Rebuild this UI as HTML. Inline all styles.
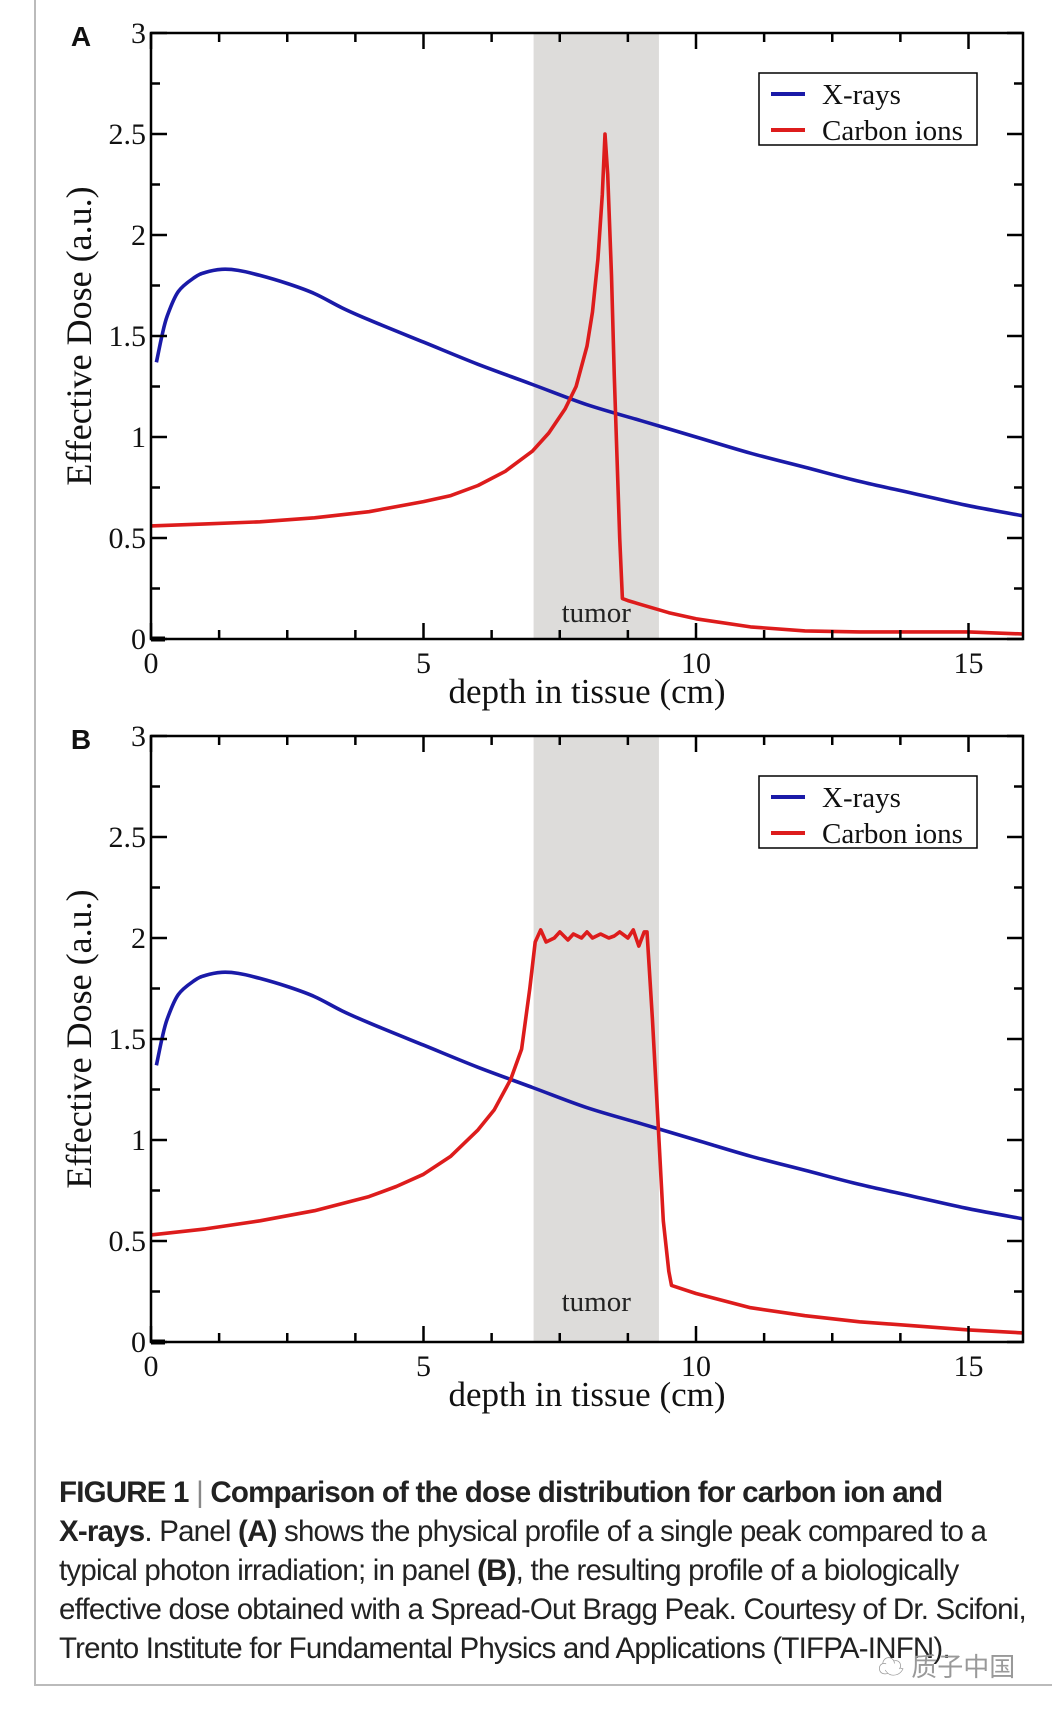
<!DOCTYPE html>
<html><head><meta charset="utf-8"><style>
html,body{margin:0;padding:0;background:#fff;}
body{width:1052px;height:1717px;position:relative;overflow:hidden;font-family:"Liberation Serif",serif;}
#frame{position:absolute;left:34px;top:-2px;width:1030px;height:1686px;border-left:2px solid #bbb;border-bottom:2px solid #bbb;}
.cap{position:absolute;left:59px;font-family:"Liberation Sans",sans-serif;font-size:29.5px;color:#222;white-space:nowrap;letter-spacing:-0.8px;}
</style></head><body>
<div id="frame"></div>
<svg id="chart" width="1052" height="1717" style="position:absolute;left:0;top:0"></svg>
<div class="cap" style="top:1476px"><b>FIGURE 1</b> <span style="color:#888">|</span> <b>Comparison of the dose distribution for carbon ion and</b></div>
<div class="cap" style="top:1515px"><b>X-rays</b>. Panel <b>(A)</b> shows the physical profile of a single peak compared to a</div>
<div class="cap" style="top:1554px">typical photon irradiation; in panel <b>(B)</b>, the resulting profile of a biologically</div>
<div class="cap" style="top:1593px">effective dose obtained with a Spread-Out Bragg Peak. Courtesy of Dr. Scifoni,</div>
<div class="cap" style="top:1632px">Trento Institute for Fundamental Physics and Applications (TIFPA-INFN).</div>
<div style="position:absolute;left:878px;top:1647px;font-family:'Liberation Sans','Noto Sans CJK SC',sans-serif;font-size:26px;color:#999">☁ 质子中国</div>
<script>
const xrayX = [0.1,0.2,0.3,0.5,0.8,1.0,1.3,1.6,2,2.5,3,3.5,4,5,6,7,8,9,10,11,12,13,14,15,16];
const xrayY = [1.37,1.5,1.6,1.72,1.79,1.815,1.83,1.825,1.8,1.76,1.71,1.64,1.58,1.47,1.36,1.26,1.16,1.08,1.0,0.92,0.85,0.78,0.72,0.66,0.61];
const carbonAX = [0,1,2,3,4,5,5.5,6,6.5,7,7.3,7.6,7.8,8.0,8.1,8.2,8.28,8.33,8.38,8.45,8.5,8.55,8.6,8.65,8.75,9,9.5,10,11,12,13,14,15,16];
const carbonAY = [0.56,0.57,0.58,0.6,0.63,0.68,0.71,0.76,0.83,0.93,1.02,1.14,1.25,1.45,1.62,1.88,2.2,2.5,2.3,1.8,1.3,0.9,0.5,0.2,0.19,0.17,0.13,0.1,0.06,0.04,0.035,0.035,0.035,0.025];
const carbonBX = [0,1,2,3,4,4.5,5,5.5,6,6.3,6.6,6.8,6.95,7.05,7.15,7.25,7.4,7.5,7.65,7.75,7.9,8.0,8.1,8.25,8.4,8.5,8.6,8.75,8.85,8.95,9.05,9.1,9.2,9.3,9.4,9.5,9.55,10,11,12,13,14,15,16];
const carbonBY = [0.53,0.56,0.6,0.65,0.72,0.77,0.83,0.92,1.05,1.15,1.3,1.45,1.75,1.98,2.04,1.98,2.0,2.03,1.99,2.02,2.0,2.03,2.0,2.02,2.0,2.01,2.03,2.0,2.04,1.96,2.03,2.03,1.6,1.1,0.6,0.35,0.28,0.24,0.17,0.13,0.1,0.08,0.06,0.045];
const xTicks = [0,5,10,15];
const yTicks = [0,0.5,1,1.5,2,2.5,3];
const yTickLabels = ["0","0.5","1","1.5","2","2.5","3"];
const tumorRange = [7.02,9.32];

const NS="http://www.w3.org/2000/svg";
const svg=document.getElementById('chart');
function mk(tag,attrs,parent){const e=document.createElementNS(NS,tag);for(const k in attrs)e.setAttribute(k,attrs[k]);(parent||svg).appendChild(e);return e;}
function panel(letter,top,cX,cY,tumorY){
  const L=151,R=1023,T=top,B=top+606;
  const sx=v=>L+(v/16)*(R-L), sy=v=>B-(v/3)*(B-T);
  const g=mk('g',{});
  
  
  const band=mk('rect',{x:sx(tumorRange[0]),y:T,width:sx(tumorRange[1])-sx(tumorRange[0]),height:B-T,fill:'#dddcda'},g);
  
  
  const tt=mk('text',{x:(sx(tumorRange[0])+sx(tumorRange[1]))/2,y:tumorY,'text-anchor':'middle','font-size':29,fill:'#222'},g);
  tt.textContent='tumor';
  
  
  function line(xs,ys,color,name,smooth){
    const P=xs.map((x,i)=>[sx(x),sy(ys[i])]);
    let d='M'+P[0][0].toFixed(1)+','+P[0][1].toFixed(1);
    for(let i=0;i<P.length-1;i++){
      if(smooth){
        const p0=P[Math.max(0,i-1)],p1=P[i],p2=P[i+1],p3=P[Math.min(P.length-1,i+2)];
        const c1=[p1[0]+(p2[0]-p0[0])/6,p1[1]+(p2[1]-p0[1])/6],c2=[p2[0]-(p3[0]-p1[0])/6,p2[1]-(p3[1]-p1[1])/6];
        d+=` C${c1[0].toFixed(1)},${c1[1].toFixed(1)} ${c2[0].toFixed(1)},${c2[1].toFixed(1)} ${p2[0].toFixed(1)},${p2[1].toFixed(1)}`;
      } else d+=` L${P[i+1][0].toFixed(1)},${P[i+1][1].toFixed(1)}`;
    }
    const p=mk('path',{d:d,fill:'none',stroke:color,'stroke-width':3.6,'stroke-linejoin':'round'},g);
    
    
  }
  line(xrayX,xrayY,'#1a1aa8','xrays-line',true);
  line(cX,cY,'#dd1c1c','carbon-ions-line',false);
  for(let v=0;v<=16.01;v+=1.25){
    const major=Math.abs(v/5-Math.round(v/5))<1e-6, len=major?16:9;
    mk('line',{x1:sx(v),x2:sx(v),y1:B,y2:B-len,stroke:'#000','stroke-width':2.5},g);
    mk('line',{x1:sx(v),x2:sx(v),y1:T,y2:T+len,stroke:'#000','stroke-width':2.5},g);
  }
  for(let v=0;v<=3.001;v+=0.25){
    const major=Math.abs(v*2-Math.round(v*2))<1e-6, len=major?16:9;
    mk('line',{x1:L,x2:L+len,y1:sy(v),y2:sy(v),stroke:'#000','stroke-width':2.5},g);
    mk('line',{x1:R,x2:R-len,y1:sy(v),y2:sy(v),stroke:'#000','stroke-width':2.5},g);
  }
  const fr=mk('rect',{x:L,y:T,width:R-L,height:B-T,fill:'none',stroke:'#000','stroke-width':2.5},g);
  
  
  mk('line',{x1:L,x2:L+14,y1:B,y2:B,stroke:'#000','stroke-width':5},g);
  xTicks.forEach(v=>{const t=mk('text',{x:sx(v),y:B+34,'text-anchor':'middle','font-size':30,fill:'#111'},g);t.textContent=String(v);
    
    });
  yTicks.forEach((v,i)=>{const t=mk('text',{x:L-5,y:sy(v)+10,'text-anchor':'end','font-size':30,fill:'#111'},g);t.textContent=yTickLabels[i];
    
    });
  const xt=mk('text',{x:(L+R)/2,y:B+64,'text-anchor':'middle','font-size':35,fill:'#111'},g);
  xt.textContent='depth in tissue (cm)';
  
  
  const yt=mk('text',{x:0,y:0,'text-anchor':'middle','font-size':36,fill:'#111',transform:`translate(91,${(T+B)/2}) rotate(-90)`},g);
  yt.textContent='Effective Dose (a.u.)';
  
  
  const lt=mk('text',{x:81,y:T+13,'text-anchor':'middle','font-size':28,'font-weight':'bold','font-family':'Liberation Sans, sans-serif',fill:'#111'},g);
  lt.textContent=letter;
  
  
  const lg=mk('g',{},g);
  
  
  mk('rect',{x:759,y:T+40,width:218,height:72,fill:'#fff',stroke:'#000','stroke-width':1.5},lg);
  [['X-rays','#1a1aa8'],['Carbon ions','#dd1c1c']].forEach((e,i)=>{
    const yy=T+61+i*36;
    mk('line',{x1:771,x2:805,y1:yy,y2:yy,stroke:e[1],'stroke-width':4},lg);
    const t=mk('text',{x:822,y:yy+10,'font-size':29,fill:'#111'},lg);t.textContent=e[0];
    
    
  });
}
panel('A',33,carbonAX,carbonAY,622);
panel('B',736,carbonBX,carbonBY,1311);
</script>
</body></html>
